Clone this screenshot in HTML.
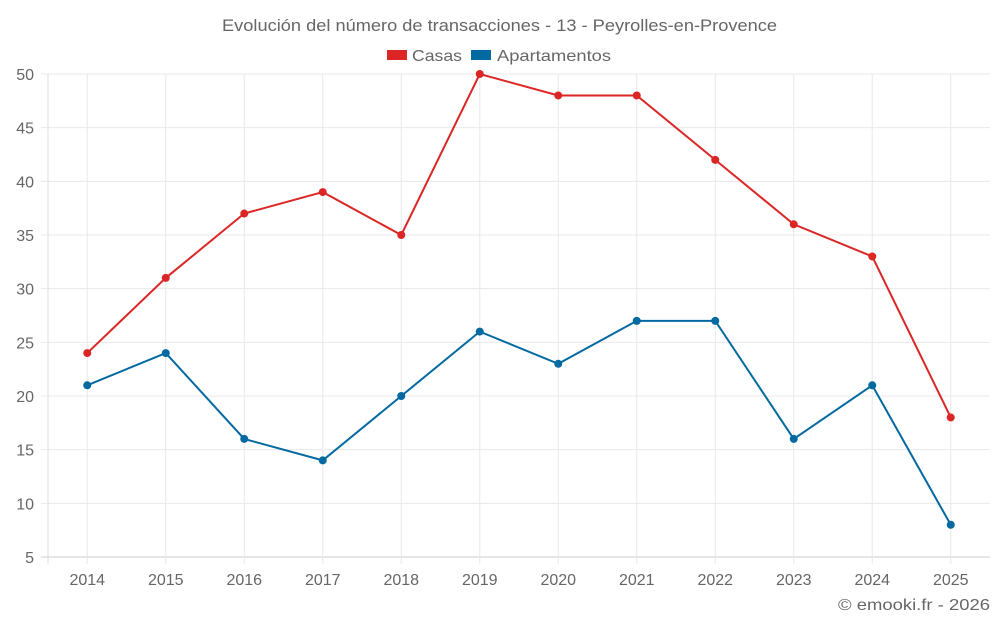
<!DOCTYPE html>
<html><head><meta charset="utf-8"><style>
body{margin:0;background:#fff;font-family:"Liberation Sans",sans-serif}
svg text{font-family:"Liberation Sans",sans-serif}
</style></head><body>
<svg id="chart" width="1000" height="625" viewBox="0 0 1000 625">
<text x="222" y="31" font-size="17" fill="#666" textLength="555" lengthAdjust="spacingAndGlyphs">Evolución del número de transacciones - 13 - Peyrolles-en-Provence</text>
<g>
<g><rect x="387" y="50" width="20" height="10" fill="#dc2626"/><text x="412" y="61" font-size="16" fill="#666" textLength="50" lengthAdjust="spacingAndGlyphs">Casas</text></g>
<g><rect x="471" y="50" width="20" height="10" fill="#0369a1"/><text x="497" y="61" font-size="16" fill="#666" textLength="114" lengthAdjust="spacingAndGlyphs">Apartamentos</text></g>
</g>
<g id="grid"></g><g id="axes"></g><g id="series"></g>
<text x="838" y="610" font-size="16" fill="#666" textLength="152" lengthAdjust="spacingAndGlyphs">© emooki.fr - 2026</text>
</svg>
<script>
const years=["2014","2015","2016","2017","2018","2019","2020","2021","2022","2023","2024","2025"];
const casas=[24,31,37,39,35,50,48,48,42,36,33,18];
const apartamentos=[21,24,16,14,20,26,23,27,27,16,21,8];
const yTicks=[5,10,15,20,25,30,35,40,45,50];
const L=48,R=990,T=74,B=557,yMin=5,yMax=50;
const bw=(R-L)/years.length;
const x=i=>L+bw*(i+0.5);
const y=v=>B-(v-yMin)/(yMax-yMin)*(B-T);
const NS="http://www.w3.org/2000/svg";
function mk(tag,attrs,parent,txt){const e=document.createElementNS(NS,tag);for(const k in attrs)e.setAttribute(k,attrs[k]);if(txt!==undefined)e.textContent=txt;document.getElementById(parent).appendChild(e);return e;}
yTicks.forEach(t=>{
 const g=mk('line',{x1:41,x2:R,y1:y(t),y2:y(t),stroke:t===yMin?'#ccc':'#e8e8e8','stroke-width':1},'grid');
 
 
 const tx=mk('text',{x:34,y:y(t)+6,'text-anchor':'end','font-size':16,fill:'#666'},'axes',t);
 
 
});
const ax=mk('line',{x1:L,x2:L,y1:T,y2:B+7,stroke:'#ddd'},'grid');


years.forEach((yr,i)=>{
 const g=mk('line',{x1:x(i),x2:x(i),y1:T,y2:B+7,stroke:'#e8e8e8'},'grid');
 
 
 const tx=mk('text',{x:x(i),y:585,'text-anchor':'middle','font-size':16,fill:'#666'},'axes',yr);
 
 
});
function series(vals,color,name){
 const p=mk('polyline',{points:vals.map((v,i)=>x(i)+','+y(v)).join(' '),fill:'none',stroke:color,'stroke-width':2},'series');
 
 
 vals.forEach((v,i)=>{
  const c=mk('circle',{cx:x(i),cy:y(v),r:4,fill:color},'series');
  
  
 });
}
series(casas,'#dc2626','casas');
series(apartamentos,'#0369a1','apartamentos');
</script>
</body></html>
